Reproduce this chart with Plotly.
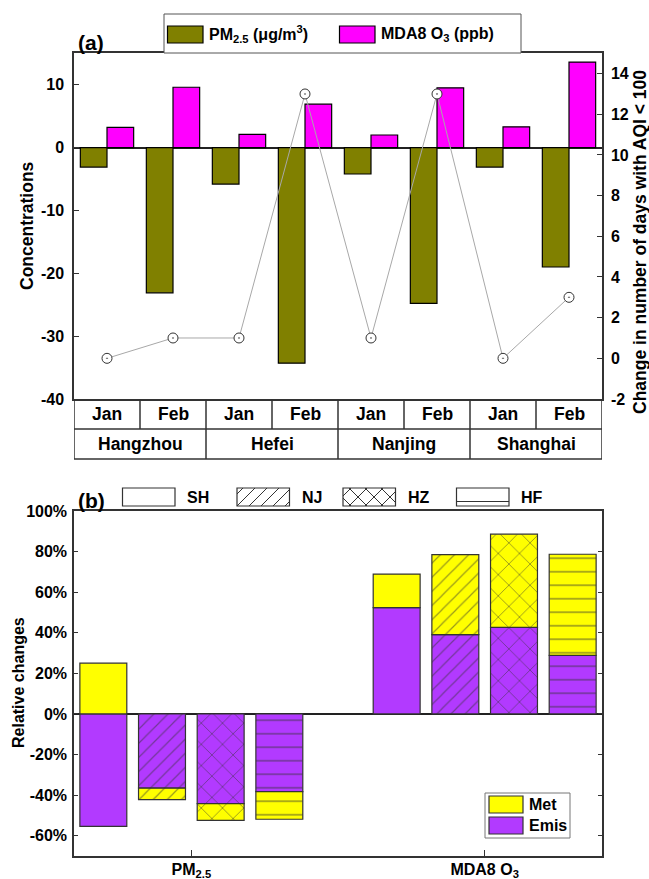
import plotly.graph_objects as go

W, H = 649, 879

# ---------------- data: panel (a) ----------------
cities_a = ["Hangzhou", "Hefei", "Nanjing", "Shanghai"]
months = ["Jan", "Feb"]
pm25_change = [-3.1, -23.1, -5.8, -34.3, -4.2, -24.8, -3.1, -19.0]
o3_change = [3.2, 9.6, 2.1, 6.9, 2.0, 9.5, 3.3, 13.6]
aqi_days_change = [0, 1, 1, 13, 1, 13, 0, 3]
conc_ticks = [-40, -30, -20, -10, 0, 10]
conc_ticklabels = ["-40", "-30", "-20", "-10", "0", "10"]
days_ticks = [-2, 0, 2, 4, 6, 8, 10, 12, 14]
days_ticklabels = ["-2", "0", "2", "4", "6", "8", "10", "12", "14"]

# ---------------- data: panel (b) ----------------
cities_b = ["SH", "NJ", "HZ", "HF"]
pollutants_b = ["PM<sub>2.5</sub>", "MDA8 O<sub>3</sub>"]
emis_pm25 = [-0.554, -0.366, -0.442, -0.383]
met_pm25 = [0.250, -0.056, -0.082, -0.136]
emis_o3 = [0.524, 0.391, 0.427, 0.289]
met_o3 = [0.165, 0.394, 0.459, 0.498]
rel_ticks = [-0.6, -0.4, -0.2, 0.0, 0.2, 0.4, 0.6, 0.8, 1.0]
rel_ticklabels = ["-60%", "-40%", "-20%", "0%", "20%", "40%", "60%", "80%", "100%"]

# ---------------- styles ----------------
FONT = "Liberation Sans, Arial, sans-serif"
OLIVE, MAGENTA = "#808000", "#FF00FF"
YELLOW, PURPLE = "#FFFF00", "#B23AFF"
city_pattern = {"SH": "", "NJ": "/", "HZ": "x", "HF": "-"}
pattern_size = {"": 10, "/": 10, "x": 15, "-": 13.5}


def X(px):
    return px / W


def Y(py):
    return 1 - py / H


def note(x, y, text, size, xanchor="center", yanchor="middle", xref="paper", **kw):
    return dict(x=x, y=y, xref=xref, yref="paper", text=text, showarrow=False,
                xanchor=xanchor, yanchor=yanchor, font=dict(size=size), **kw)


fig = go.Figure()

# ---------- panel (a) ----------
n_a = len(cities_a) * len(months)
x_a = list(range(n_a))
bw = 0.404
fig.add_trace(go.Bar(x=x_a, y=pm25_change, width=bw, offset=-bw,
                     marker=dict(color=OLIVE, line=dict(color="black", width=1.2)),
                     xaxis="x", yaxis="y", showlegend=False))
fig.add_trace(go.Bar(x=x_a, y=o3_change, width=bw, offset=0,
                     marker=dict(color=MAGENTA, line=dict(color="black", width=1.2)),
                     xaxis="x", yaxis="y", showlegend=False))
fig.add_trace(go.Scatter(x=x_a, y=aqi_days_change, mode="lines+markers",
                         line=dict(color="#A8A8A8", width=1),
                         marker=dict(symbol="circle-dot", size=10, color="white",
                                     line=dict(color="#333333", width=1)),
                         xaxis="x", yaxis="y2", showlegend=False))

# ---------- panel (b) ----------
GROUP_STEP = len(cities_b) + 1
for c, city in enumerate(cities_b):
    shp = city_pattern[city]
    xs = [c, GROUP_STEP + c]
    for vals, col in (([emis_pm25[c], emis_o3[c]], PURPLE), ([met_pm25[c], met_o3[c]], YELLOW)):
        fig.add_trace(go.Bar(
            x=xs, y=vals, width=0.8,
            marker=dict(color=col, line=dict(color="#333333", width=1.2),
                        pattern=dict(shape=shp, size=pattern_size[shp], solidity=0.12,
                                     fgcolor="#333333", bgcolor=col)),
            xaxis="x3", yaxis="y3", showlegend=False))

shapes = []
annotations = []

# ---------- table under panel (a) ----------
T0, T1, T2 = 399, 429, 459
line_style = dict(color="#333333", width=1.5)
for yy in (T1, T2):
    shapes.append(dict(type="line", xref="x", yref="paper", x0=-0.5, x1=n_a - 0.5,
                       y0=Y(yy), y1=Y(yy), line=line_style))
for k in range(len(cities_a) + 1):
    xx = k * len(months) - 0.5
    shapes.append(dict(type="line", xref="x", yref="paper", x0=xx, x1=xx,
                       y0=Y(T0), y1=Y(T2), line=line_style))
for k in range(len(cities_a)):
    for m in range(1, len(months)):
        xx = k * len(months) + m - 0.5
        shapes.append(dict(type="line", xref="x", yref="paper", x0=xx, x1=xx,
                           y0=Y(T0), y1=Y(T1), line=line_style))
for k, city in enumerate(cities_a):
    for m, mon in enumerate(months):
        annotations.append(note(k * len(months) + m, Y((T0 + T1) / 2), mon, 17.5, xref="x"))
    annotations.append(note(k * len(months) + (len(months) - 1) / 2, Y((T1 + T2) / 2),
                            city, 17.5, xref="x"))

# ---------- legend (a) ----------
shapes.append(dict(type="rect", xref="paper", yref="paper", x0=X(164), x1=X(521),
                   y0=Y(53), y1=Y(14), line=dict(color="#555555", width=1), fillcolor="white"))
for (x0, x1, col, txt, tx) in ((167.5, 203, OLIVE, "PM<sub>2.5</sub> (μg/m<sup>3</sup>)", 207),
                               (339.5, 375, MAGENTA, "MDA8 O<sub>3</sub> (ppb)", 379)):
    shapes.append(dict(type="rect", xref="paper", yref="paper", x0=X(x0), x1=X(x1),
                       y0=Y(43), y1=Y(26), line=dict(color="black", width=1.2), fillcolor=col))
    annotations.append(note(X(tx), Y(34), txt, 16, xanchor="left"))


# ---------- legend (b) top: city patterns ----------
def hatch(x0, y0, x1, y1, kind, s):
    segs = []
    if kind in ("/", "x"):
        k = x0 + y0 + s / 2
        while k < x1 + y1:
            xa, xb = max(x0, k - y1), min(x1, k - y0)
            if xb > xa:
                segs.append((xa, k - xa, xb, k - xb))
            k += s
    if kind == "x":
        k = x0 - y1 + s / 2
        while k < x1 - y0:
            xa, xb = max(x0, k + y0), min(x1, k + y1)
            if xb > xa:
                segs.append((xa, xa - k, xb, xb - k))
            k += s
    if kind == "-":
        yy = y0 + 0.75 * (y1 - y0)
        segs.append((x0, yy, x1, yy))
    return segs


sw_left = [122.5, 237, 343, 456.5]
for c, city in enumerate(cities_b):
    x0, x1, y0, y1 = sw_left[c], sw_left[c] + 52.5, 488, 506
    shp = city_pattern[city]
    for (a, b, cc, d) in hatch(x0, y0, x1, y1, shp, 12 if shp == "/" else 16):
        shapes.append(dict(type="line", xref="paper", yref="paper", x0=X(a), y0=Y(b),
                           x1=X(cc), y1=Y(d), line=dict(color="#333333", width=1)))
    shapes.append(dict(type="rect", xref="paper", yref="paper", x0=X(x0), x1=X(x1),
                       y0=Y(y1), y1=Y(y0), line=dict(color="#333333", width=1.2)))
    annotations.append(note(X(x1 + 10), Y(497), city, 16, xanchor="left"))

# ---------- legend (b) bottom: Met / Emis ----------
shapes.append(dict(type="rect", xref="paper", yref="paper", x0=X(485), x1=X(570),
                   y0=Y(838), y1=Y(793), line=dict(color="#777777", width=1), fillcolor="white"))
for (yt, yb, col, txt) in ((796, 813, YELLOW, "Met"), (817, 834, PURPLE, "Emis")):
    shapes.append(dict(type="rect", xref="paper", yref="paper", x0=X(489), x1=X(523),
                       y0=Y(yb), y1=Y(yt), line=dict(color="#333333", width=1.2), fillcolor=col))
    annotations.append(note(X(527), Y((yt + yb) / 2), txt, 16, xanchor="left"))

# ---------- panel labels & axis titles ----------
annotations += [
    note(X(76), Y(42), "(a)", 21, xanchor="left"),
    note(X(76), Y(500), "(b)", 21, xanchor="left"),
    note(X(27), Y(226), "Concentrations", 17.5, textangle=-90),
    note(X(640), Y(242), "Change in number of days with AQI < 100", 17.5, textangle=-90),
    note(X(18), Y(683), "Relative changes", 16, textangle=-90),
]

axis_common = dict(showgrid=False, showline=True, linecolor="#333333", linewidth=1.5,
                   ticks="inside", tickwidth=1.2, tickcolor="#333333",
                   tickfont=dict(size=16), automargin=False)

dom_x = [X(74), X(602)]
fig.update_layout(
    width=W, height=H,
    margin=dict(l=0, r=0, t=0, b=0),
    paper_bgcolor="white", plot_bgcolor="white",
    font=dict(family=FONT, size=16, color="black", weight="bold"),
    barmode="relative",
    showlegend=False,
    xaxis=dict(domain=dom_x, anchor="y", range=[-0.5, n_a - 0.5], showticklabels=False,
               ticks="", showline=True, mirror=True, linecolor="#333333", linewidth=1.5,
               showgrid=False, zeroline=False, automargin=False),
    yaxis=dict(domain=[Y(399), Y(53.3)], anchor="x", range=[-40, 15], tickvals=conc_ticks,
               ticktext=conc_ticklabels, zeroline=True, zerolinecolor="#222222",
               zerolinewidth=1.5, ticklabelstandoff=5, ticklen=5, **axis_common),
    yaxis2=dict(overlaying="y", side="right", anchor="x", range=[-2, 15], tickvals=days_ticks,
                ticktext=days_ticklabels, zeroline=False, ticklabelstandoff=4, ticklen=5,
                **axis_common),
    xaxis3=dict(domain=dom_x, anchor="y3", range=[-0.5, 2 * GROUP_STEP - 1.5],
                tickvals=[(len(cities_b) - 1) / 2, GROUP_STEP + (len(cities_b) - 1) / 2],
                ticktext=pollutants_b, mirror=True, zeroline=False, ticklen=6,
                ticklabelstandoff=-2, **axis_common),
    yaxis3=dict(domain=[Y(856), Y(511)], anchor="x3", range=[-0.70, 1.0], tickvals=rel_ticks,
                ticktext=rel_ticklabels, mirror="ticks", zeroline=True,
                zerolinecolor="#222222", zerolinewidth=1.5, ticklabelstandoff=2, ticklen=4,
                **axis_common),
    shapes=shapes,
    annotations=annotations,
)

fig.write_html("out.html", config={"displayModeBar": False},
               post_script="document.body.style.margin='0px';")
